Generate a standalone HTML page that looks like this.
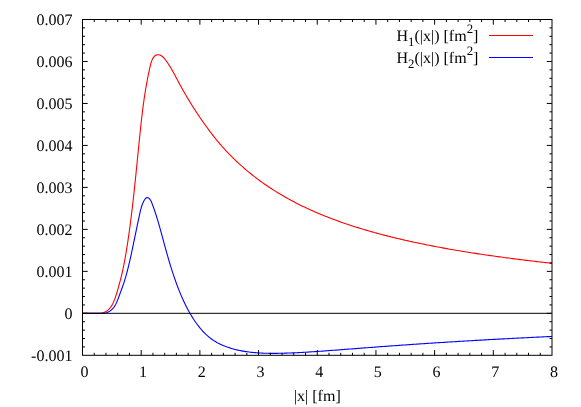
<!DOCTYPE html>
<html><head><meta charset="utf-8"><title>H1 H2</title>
<style>
html,body{margin:0;padding:0;background:#fff;}
body{width:581px;height:407px;overflow:hidden;}
svg{display:block;}
text{font-family:"Liberation Serif",serif;font-size:16px;fill:#000;text-rendering:geometricPrecision;}
#tx{filter:grayscale(1);}
</style></head><body>
<svg width="581" height="407" viewBox="0 0 581 407">
<rect width="581" height="407" fill="#fff"/>
<path d="M82.50,313.32 L90.00,313.35 L91.08,313.31 L92.15,313.29 L93.23,313.30 L94.31,313.32 L95.39,313.34 L96.47,313.35 L97.55,313.34 L98.63,313.31 L99.71,313.23 L100.79,313.11 L101.87,312.93 L102.92,312.69 L103.95,312.39 L104.94,312.02 L105.90,311.56 L106.81,311.03 L107.66,310.41 L108.46,309.71 L109.22,308.95 L109.93,308.13 L110.59,307.26 L111.22,306.34 L111.80,305.39 L112.35,304.41 L112.86,303.42 L113.34,302.41 L113.79,301.40 L114.22,300.39 L114.62,299.39 L114.99,298.39 L115.35,297.40 L115.69,296.40 L116.02,295.41 L116.33,294.41 L116.64,293.41 L116.94,292.40 L117.24,291.40 L117.53,290.38 L117.83,289.37 L118.12,288.34 L118.42,287.32 L118.71,286.29 L118.99,285.25 L119.28,284.22 L119.56,283.18 L119.84,282.13 L120.12,281.09 L120.39,280.04 L120.66,278.99 L120.93,277.93 L121.19,276.88 L121.45,275.83 L121.71,274.77 L121.96,273.71 L122.20,272.66 L122.44,271.60 L122.68,270.54 L122.91,269.48 L123.13,268.43 L123.36,267.37 L123.58,266.31 L123.79,265.25 L124.00,264.19 L124.21,263.13 L124.41,262.07 L124.61,261.01 L124.81,259.95 L125.00,258.89 L125.19,257.83 L125.38,256.77 L125.57,255.71 L125.75,254.64 L125.93,253.58 L126.11,252.52 L126.28,251.46 L126.45,250.39 L126.63,249.33 L126.79,248.27 L126.96,247.20 L127.13,246.14 L127.29,245.07 L127.46,244.01 L127.62,242.95 L127.78,241.88 L127.94,240.82 L128.09,239.75 L128.25,238.69 L128.40,237.62 L128.56,236.55 L128.71,235.49 L128.86,234.42 L129.01,233.35 L129.16,232.29 L129.31,231.22 L129.46,230.15 L129.60,229.09 L129.75,228.02 L129.89,226.95 L130.03,225.88 L130.17,224.81 L130.31,223.75 L130.45,222.68 L130.59,221.61 L130.73,220.54 L130.86,219.47 L131.00,218.40 L131.13,217.33 L131.27,216.26 L131.40,215.19 L131.53,214.12 L131.66,213.05 L131.79,211.98 L131.92,210.91 L132.05,209.84 L132.17,208.77 L132.30,207.70 L132.43,206.63 L132.55,205.56 L132.67,204.49 L132.80,203.42 L132.92,202.35 L133.04,201.28 L133.16,200.20 L133.28,199.13 L133.40,198.06 L133.52,196.99 L133.64,195.92 L133.76,194.84 L133.87,193.77 L133.99,192.70 L134.11,191.63 L134.22,190.56 L134.34,189.48 L134.45,188.41 L134.57,187.34 L134.68,186.27 L134.79,185.19 L134.91,184.12 L135.02,183.05 L135.13,181.97 L135.24,180.90 L135.35,179.83 L135.46,178.75 L135.57,177.68 L135.68,176.61 L135.79,175.53 L135.90,174.46 L136.01,173.39 L136.12,172.31 L136.23,171.24 L136.33,170.17 L136.44,169.09 L136.55,168.02 L136.66,166.95 L136.77,165.87 L136.87,164.80 L136.98,163.73 L137.09,162.65 L137.19,161.58 L137.30,160.51 L137.41,159.43 L137.51,158.36 L137.62,157.29 L137.73,156.21 L137.83,155.14 L137.94,154.06 L138.05,152.99 L138.15,151.92 L138.26,150.84 L138.37,149.77 L138.47,148.70 L138.58,147.62 L138.69,146.55 L138.79,145.48 L138.90,144.40 L139.01,143.33 L139.12,142.26 L139.22,141.18 L139.33,140.11 L139.44,139.04 L139.55,137.97 L139.66,136.89 L139.77,135.82 L139.88,134.75 L139.99,133.67 L140.10,132.60 L140.21,131.53 L140.32,130.46 L140.43,129.39 L140.54,128.31 L140.66,127.24 L140.77,126.17 L140.89,125.10 L141.00,124.03 L141.12,122.95 L141.24,121.88 L141.36,120.81 L141.48,119.74 L141.60,118.67 L141.72,117.60 L141.85,116.53 L141.98,115.46 L142.10,114.39 L142.23,113.32 L142.36,112.25 L142.49,111.18 L142.63,110.11 L142.76,109.04 L142.90,107.97 L143.04,106.90 L143.18,105.83 L143.32,104.77 L143.47,103.70 L143.61,102.63 L143.76,101.56 L143.91,100.49 L144.07,99.43 L144.22,98.36 L144.38,97.29 L144.54,96.23 L144.70,95.16 L144.87,94.10 L145.03,93.03 L145.20,91.97 L145.38,90.90 L145.55,89.84 L145.73,88.77 L145.91,87.71 L146.10,86.64 L146.28,85.58 L146.47,84.52 L146.66,83.46 L146.86,82.39 L147.06,81.33 L147.26,80.27 L147.46,79.21 L147.66,78.15 L147.87,77.10 L148.08,76.04 L148.30,74.98 L148.51,73.93 L148.73,72.87 L148.95,71.82 L149.18,70.76 L149.40,69.71 L149.63,68.66 L149.86,67.61 L150.10,66.56 L150.34,65.51 L150.60,64.47 L150.88,63.43 L151.18,62.40 L151.53,61.37 L151.93,60.36 L152.37,59.35 L152.88,58.36 L153.46,57.41 L154.13,56.55 L154.88,55.82 L155.74,55.25 L156.70,54.88 L157.73,54.73 L158.78,54.79 L159.82,55.05 L160.83,55.48 L161.79,56.05 L162.68,56.72 L163.50,57.47 L164.25,58.28 L164.94,59.12 L165.60,59.99 L166.24,60.86 L166.87,61.75 L167.48,62.63 L168.08,63.53 L168.67,64.43 L169.25,65.33 L169.82,66.24 L170.38,67.16 L170.93,68.08 L171.47,69.00 L172.00,69.93 L172.53,70.86 L173.05,71.79 L173.57,72.73 L174.08,73.67 L174.59,74.61 L175.10,75.55 L175.60,76.49 L176.10,77.44 L176.60,78.39 L177.10,79.33 L177.60,80.28 L178.10,81.23 L178.60,82.17 L179.11,83.12 L179.62,84.07 L180.13,85.01 L180.65,85.95 L181.16,86.89 L181.68,87.84 L182.21,88.78 L182.73,89.72 L183.26,90.65 L183.79,91.59 L184.33,92.53 L184.86,93.46 L185.40,94.40 L185.95,95.33 L186.49,96.26 L187.04,97.19 L187.59,98.12 L188.15,99.05 L188.70,99.97 L189.26,100.90 L189.83,101.82 L190.39,102.74 L190.96,103.66 L191.53,104.58 L192.11,105.50 L192.68,106.42 L193.26,107.33 L193.85,108.24 L194.43,109.16 L195.02,110.06 L195.61,110.97 L196.21,111.88 L196.81,112.78 L197.41,113.69 L198.01,114.59 L198.62,115.50 L199.23,116.40 L199.84,117.30 L200.45,118.20 L201.07,119.10 L201.69,120.00 L202.32,120.90 L202.94,121.80 L203.57,122.70 L204.20,123.59 L204.84,124.49 L205.48,125.38 L206.12,126.27 L206.76,127.16 L207.41,128.05 L208.06,128.94 L208.72,129.82 L209.37,130.70 L210.03,131.58 L210.69,132.46 L211.36,133.34 L212.03,134.21 L212.70,135.07 L213.37,135.94 L214.05,136.80 L214.73,137.66 L215.41,138.51 L216.10,139.36 L216.79,140.21 L217.48,141.05 L218.18,141.88 L218.87,142.71 L219.58,143.54 L220.28,144.36 L220.99,145.18 L221.70,145.99 L222.41,146.80 L223.13,147.60 L223.85,148.39 L224.57,149.18 L225.00,149.65 L226.50,151.26 L228.00,152.84 L229.50,154.39 L231.00,155.92 L232.50,157.42 L234.00,158.89 L235.50,160.33 L237.00,161.76 L238.50,163.15 L240.00,164.53 L241.50,165.88 L243.00,167.21 L244.50,168.51 L246.00,169.80 L247.50,171.06 L249.00,172.30 L250.50,173.52 L252.00,174.73 L253.50,175.91 L255.00,177.07 L256.50,178.22 L258.00,179.35 L259.50,180.46 L261.00,181.55 L262.50,182.62 L264.00,183.68 L265.50,184.73 L267.00,185.75 L268.50,186.76 L270.00,187.76 L271.50,188.74 L273.00,189.71 L274.50,190.66 L276.00,191.60 L277.50,192.52 L279.00,193.44 L280.50,194.33 L282.00,195.22 L283.50,196.09 L285.00,196.95 L286.50,197.80 L288.00,198.63 L289.50,199.46 L291.00,200.27 L292.50,201.07 L294.00,201.86 L295.50,202.64 L297.00,203.41 L298.50,204.17 L300.00,204.92 L301.50,205.66 L303.00,206.39 L304.50,207.11 L306.00,207.82 L307.50,208.52 L309.00,209.21 L310.50,209.89 L312.00,210.56 L313.50,211.23 L315.00,211.89 L316.50,212.54 L318.00,213.18 L319.50,213.81 L321.00,214.43 L322.50,215.05 L324.00,215.66 L325.50,216.26 L327.00,216.86 L328.50,217.44 L330.00,218.02 L331.50,218.60 L333.00,219.16 L334.50,219.72 L336.00,220.28 L337.50,220.82 L339.00,221.36 L340.50,221.90 L342.00,222.43 L343.50,222.95 L345.00,223.47 L346.50,223.98 L348.00,224.48 L349.50,224.98 L351.00,225.47 L352.50,225.96 L354.00,226.44 L355.50,226.92 L357.00,227.39 L358.50,227.86 L360.00,228.32 L361.50,228.78 L363.00,229.23 L364.50,229.68 L366.00,230.12 L367.50,230.56 L369.00,231.00 L370.50,231.43 L372.00,231.85 L373.50,232.27 L375.00,232.69 L376.50,233.10 L378.00,233.51 L379.50,233.91 L381.00,234.31 L382.50,234.71 L384.00,235.10 L385.50,235.48 L387.00,235.87 L388.50,236.25 L390.00,236.63 L391.50,237.00 L393.00,237.37 L394.50,237.73 L396.00,238.10 L397.50,238.46 L399.00,238.81 L400.50,239.16 L402.00,239.51 L403.50,239.86 L405.00,240.20 L406.50,240.54 L408.00,240.88 L409.50,241.21 L411.00,241.54 L412.50,241.87 L414.00,242.19 L415.50,242.51 L417.00,242.83 L418.50,243.15 L420.00,243.46 L421.50,243.77 L423.00,244.08 L424.50,244.38 L426.00,244.69 L427.50,244.99 L429.00,245.28 L430.50,245.58 L432.00,245.87 L433.50,246.16 L435.00,246.45 L436.50,246.73 L438.00,247.01 L439.50,247.29 L441.00,247.57 L442.50,247.85 L444.00,248.12 L445.50,248.39 L447.00,248.66 L448.50,248.93 L450.00,249.19 L451.50,249.45 L453.00,249.71 L454.50,249.97 L456.00,250.23 L457.50,250.48 L459.00,250.73 L460.50,250.98 L462.00,251.23 L463.50,251.48 L465.00,251.72 L466.50,251.96 L468.00,252.20 L469.50,252.44 L471.00,252.68 L472.50,252.92 L474.00,253.15 L475.50,253.38 L477.00,253.61 L478.50,253.84 L480.00,254.07 L481.50,254.29 L483.00,254.51 L484.50,254.74 L486.00,254.96 L487.50,255.17 L489.00,255.39 L490.50,255.61 L492.00,255.82 L493.50,256.03 L495.00,256.24 L496.50,256.45 L498.00,256.66 L499.50,256.87 L501.00,257.07 L502.50,257.27 L504.00,257.48 L505.50,257.68 L507.00,257.87 L508.50,258.07 L510.00,258.27 L511.50,258.46 L513.00,258.66 L514.50,258.85 L516.00,259.04 L517.50,259.23 L519.00,259.42 L520.50,259.61 L522.00,259.79 L523.50,259.98 L525.00,260.16 L526.50,260.34 L528.00,260.52 L529.50,260.70 L531.00,260.88 L532.50,261.06 L534.00,261.24 L535.50,261.41 L537.00,261.59 L538.50,261.76 L540.00,261.93 L541.50,262.10 L543.00,262.27 L544.50,262.44 L546.00,262.61 L547.50,262.78 L549.00,262.94 L550.50,263.11 L552.00,263.27" stroke="#ff0000" stroke-width="1.1" fill="none" stroke-linejoin="round"/>
<path d="M82.50,313.32 L89.99,313.31 L90.93,313.34 L91.85,313.35 L92.77,313.35 L93.69,313.34 L94.61,313.33 L95.52,313.31 L96.44,313.30 L97.35,313.29 L98.28,313.29 L99.20,313.30 L100.13,313.32 L101.07,313.34 L102.00,313.35 L102.93,313.33 L103.86,313.26 L104.77,313.15 L105.67,312.96 L106.55,312.71 L107.40,312.40 L108.24,312.02 L109.05,311.59 L109.83,311.10 L110.58,310.57 L111.29,310.00 L111.97,309.38 L112.61,308.74 L113.21,308.06 L113.77,307.35 L114.30,306.61 L114.80,305.85 L115.27,305.06 L115.72,304.25 L116.14,303.43 L116.54,302.59 L116.92,301.74 L117.29,300.87 L117.65,300.00 L117.99,299.12 L118.32,298.24 L118.65,297.36 L118.97,296.47 L119.29,295.59 L119.61,294.72 L119.93,293.85 L120.25,292.98 L120.57,292.12 L120.89,291.26 L121.21,290.40 L121.52,289.54 L121.83,288.69 L122.14,287.83 L122.45,286.98 L122.75,286.12 L123.05,285.26 L123.35,284.40 L123.64,283.54 L123.92,282.68 L124.20,281.81 L124.48,280.94 L124.75,280.07 L125.02,279.20 L125.28,278.32 L125.54,277.44 L125.80,276.56 L126.05,275.68 L126.30,274.80 L126.54,273.91 L126.78,273.03 L127.02,272.14 L127.25,271.25 L127.49,270.36 L127.71,269.47 L127.94,268.57 L128.16,267.68 L128.38,266.78 L128.60,265.89 L128.82,264.99 L129.03,264.09 L129.24,263.19 L129.45,262.29 L129.66,261.39 L129.86,260.49 L130.07,259.59 L130.27,258.69 L130.47,257.79 L130.67,256.89 L130.87,255.99 L131.06,255.09 L131.26,254.18 L131.45,253.28 L131.65,252.38 L131.84,251.48 L132.03,250.58 L132.22,249.68 L132.41,248.78 L132.60,247.88 L132.79,246.98 L132.98,246.08 L133.17,245.18 L133.36,244.28 L133.55,243.38 L133.73,242.48 L133.92,241.58 L134.11,240.68 L134.29,239.78 L134.48,238.88 L134.66,237.98 L134.85,237.08 L135.04,236.18 L135.22,235.28 L135.41,234.38 L135.59,233.48 L135.78,232.58 L135.96,231.68 L136.15,230.78 L136.34,229.88 L136.52,228.98 L136.71,228.08 L136.90,227.18 L137.08,226.28 L137.27,225.38 L137.46,224.48 L137.65,223.58 L137.84,222.68 L138.03,221.78 L138.22,220.88 L138.41,219.98 L138.61,219.08 L138.80,218.18 L139.00,217.27 L139.19,216.37 L139.39,215.47 L139.58,214.57 L139.78,213.67 L139.98,212.76 L140.18,211.86 L140.39,210.96 L140.60,210.06 L140.83,209.16 L141.06,208.27 L141.31,207.38 L141.58,206.50 L141.87,205.62 L142.18,204.74 L142.51,203.88 L142.87,203.02 L143.26,202.18 L143.69,201.34 L144.15,200.51 L144.64,199.70 L145.18,198.92 L145.78,198.24 L146.43,197.75 L147.16,197.54 L147.96,197.68 L148.77,198.12 L149.51,198.78 L150.14,199.57 L150.67,200.39 L151.10,201.23 L151.47,202.07 L151.81,202.92 L152.14,203.77 L152.47,204.62 L152.79,205.48 L153.11,206.34 L153.42,207.20 L153.73,208.06 L154.04,208.93 L154.34,209.80 L154.64,210.67 L154.93,211.54 L155.22,212.41 L155.51,213.29 L155.79,214.16 L156.07,215.04 L156.35,215.92 L156.63,216.79 L156.90,217.67 L157.17,218.56 L157.44,219.44 L157.70,220.32 L157.97,221.20 L158.23,222.08 L158.49,222.97 L158.75,223.85 L159.00,224.74 L159.25,225.63 L159.51,226.51 L159.76,227.40 L160.01,228.29 L160.25,229.17 L160.50,230.06 L160.75,230.95 L160.99,231.84 L161.23,232.73 L161.48,233.62 L161.72,234.51 L161.96,235.40 L162.20,236.29 L162.44,237.18 L162.68,238.07 L162.92,238.96 L163.16,239.85 L163.40,240.74 L163.64,241.63 L163.88,242.52 L164.13,243.41 L164.37,244.30 L164.61,245.18 L164.85,246.07 L165.10,246.96 L165.34,247.85 L165.58,248.74 L165.83,249.63 L166.08,250.51 L166.32,251.40 L166.57,252.29 L166.82,253.17 L167.07,254.06 L167.33,254.95 L167.58,255.83 L167.83,256.72 L168.09,257.60 L168.34,258.48 L168.60,259.37 L168.86,260.25 L169.12,261.13 L169.39,262.01 L169.65,262.90 L169.91,263.78 L170.18,264.66 L170.45,265.54 L170.72,266.42 L170.99,267.30 L171.27,268.17 L171.55,269.05 L171.82,269.93 L172.10,270.80 L172.39,271.68 L172.67,272.55 L172.96,273.43 L173.25,274.30 L173.54,275.18 L173.83,276.05 L174.13,276.92 L174.42,277.79 L174.73,278.66 L175.03,279.53 L175.33,280.40 L175.64,281.26 L175.95,282.13 L176.27,282.99 L176.58,283.86 L176.90,284.72 L177.22,285.59 L177.55,286.45 L177.88,287.31 L178.21,288.17 L178.54,289.03 L178.88,289.89 L179.22,290.74 L179.56,291.60 L179.91,292.46 L180.26,293.31 L180.61,294.16 L180.97,295.01 L181.33,295.86 L181.70,296.71 L182.07,297.56 L182.44,298.40 L182.81,299.24 L183.19,300.09 L183.58,300.92 L183.97,301.76 L184.36,302.60 L184.76,303.43 L185.16,304.26 L185.57,305.08 L185.98,305.91 L186.39,306.73 L186.81,307.55 L187.24,308.37 L187.67,309.18 L188.11,309.99 L188.55,310.80 L188.99,311.61 L189.44,312.41 L189.90,313.21 L190.36,314.00 L190.83,314.79 L191.30,315.58 L191.78,316.36 L192.27,317.14 L192.76,317.92 L193.25,318.69 L193.76,319.46 L194.26,320.22 L194.78,320.98 L195.30,321.74 L195.83,322.49 L196.36,323.24 L196.90,323.98 L197.45,324.72 L198.00,325.45 L198.56,326.18 L199.13,326.90 L199.71,327.61 L200.29,328.32 L200.88,329.02 L201.48,329.71 L202.09,330.40 L202.70,331.08 L203.33,331.75 L203.96,332.41 L204.60,333.06 L205.24,333.70 L205.90,334.34 L206.57,334.96 L207.24,335.57 L207.93,336.18 L208.62,336.77 L209.33,337.35 L210.04,337.92 L210.76,338.48 L211.50,339.03 L212.24,339.56 L212.99,340.08 L213.76,340.59 L214.53,341.08 L215.32,341.56 L216.11,342.02 L216.91,342.48 L217.72,342.92 L218.54,343.34 L219.37,343.76 L220.20,344.16 L221.04,344.55 L221.89,344.93 L222.74,345.30 L223.60,345.66 L224.46,346.01 L225.33,346.35 L226.21,346.67 L227.09,346.99 L227.97,347.30 L228.86,347.60 L229.75,347.89 L230.64,348.17 L231.53,348.44 L232.43,348.71 L233.33,348.96 L234.23,349.20 L235.13,349.44 L236.03,349.67 L236.93,349.88 L237.84,350.09 L238.74,350.29 L239.64,350.49 L240.00,350.56 L241.50,350.86 L243.00,351.13 L244.50,351.39 L246.00,351.62 L247.50,351.83 L249.00,352.03 L250.50,352.21 L252.00,352.37 L253.50,352.52 L255.00,352.66 L256.50,352.78 L258.00,352.88 L259.50,352.98 L261.00,353.06 L262.50,353.13 L264.00,353.19 L265.50,353.24 L267.00,353.28 L268.50,353.31 L270.00,353.34 L271.50,353.35 L273.00,353.36 L274.50,353.35 L276.00,353.35 L277.50,353.33 L279.00,353.31 L280.50,353.29 L282.00,353.25 L283.50,353.21 L285.00,353.17 L286.50,353.12 L288.00,353.07 L289.50,353.02 L291.00,352.96 L292.50,352.89 L294.00,352.82 L295.50,352.75 L297.00,352.68 L298.50,352.60 L300.00,352.52 L301.50,352.44 L303.00,352.35 L304.50,352.27 L306.00,352.18 L307.50,352.08 L309.00,351.99 L310.50,351.89 L312.00,351.80 L313.50,351.70 L315.00,351.60 L316.50,351.50 L318.00,351.39 L319.50,351.29 L321.00,351.18 L322.50,351.08 L324.00,350.97 L325.50,350.86 L327.00,350.75 L328.50,350.64 L330.00,350.53 L331.50,350.42 L333.00,350.31 L334.50,350.20 L336.00,350.08 L337.50,349.97 L339.00,349.86 L340.50,349.74 L342.00,349.63 L343.50,349.52 L345.00,349.40 L346.50,349.29 L348.00,349.17 L349.50,349.06 L351.00,348.94 L352.50,348.83 L354.00,348.71 L355.50,348.60 L357.00,348.49 L358.50,348.37 L360.00,348.26 L361.50,348.14 L363.00,348.03 L364.50,347.91 L366.00,347.80 L367.50,347.69 L369.00,347.57 L370.50,347.46 L372.00,347.35 L373.50,347.23 L375.00,347.12 L376.50,347.01 L378.00,346.90 L379.50,346.78 L381.00,346.67 L382.50,346.56 L384.00,346.45 L385.50,346.34 L387.00,346.23 L388.50,346.12 L390.00,346.01 L391.50,345.90 L393.00,345.79 L394.50,345.69 L396.00,345.58 L397.50,345.47 L399.00,345.36 L400.50,345.26 L402.00,345.15 L403.50,345.04 L405.00,344.94 L406.50,344.83 L408.00,344.73 L409.50,344.62 L411.00,344.52 L412.50,344.41 L414.00,344.31 L415.50,344.21 L417.00,344.11 L418.50,344.00 L420.00,343.90 L421.50,343.80 L423.00,343.70 L424.50,343.60 L426.00,343.50 L427.50,343.40 L429.00,343.30 L430.50,343.20 L432.00,343.10 L433.50,343.01 L435.00,342.91 L436.50,342.81 L438.00,342.71 L439.50,342.62 L441.00,342.52 L442.50,342.43 L444.00,342.33 L445.50,342.24 L447.00,342.14 L448.50,342.05 L450.00,341.95 L451.50,341.86 L453.00,341.77 L454.50,341.68 L456.00,341.58 L457.50,341.49 L459.00,341.40 L460.50,341.31 L462.00,341.22 L463.50,341.13 L465.00,341.04 L466.50,340.95 L468.00,340.86 L469.50,340.77 L471.00,340.69 L472.50,340.60 L474.00,340.51 L475.50,340.42 L477.00,340.34 L478.50,340.25 L480.00,340.17 L481.50,340.08 L483.00,339.99 L484.50,339.91 L486.00,339.83 L487.50,339.74 L489.00,339.66 L490.50,339.57 L492.00,339.49 L493.50,339.41 L495.00,339.33 L496.50,339.24 L498.00,339.16 L499.50,339.08 L501.00,339.00 L502.50,338.92 L504.00,338.84 L505.50,338.76 L507.00,338.68 L508.50,338.60 L510.00,338.52 L511.50,338.45 L513.00,338.37 L514.50,338.29 L516.00,338.21 L517.50,338.13 L519.00,338.06 L520.50,337.98 L522.00,337.91 L523.50,337.83 L525.00,337.75 L526.50,337.68 L528.00,337.60 L529.50,337.53 L531.00,337.45 L532.50,337.38 L534.00,337.31 L535.50,337.23 L537.00,337.16 L538.50,337.09 L540.00,337.02 L541.50,336.94 L543.00,336.87 L544.50,336.80 L546.00,336.73 L547.50,336.66 L549.00,336.59 L550.50,336.52 L552.00,336.45" stroke="#0000ff" stroke-width="1.1" fill="none" stroke-linejoin="round"/>
<path d="M94.24,355.30V352.80M94.24,19.50V22.00M105.97,355.30V352.80M105.97,19.50V22.00M117.71,355.30V352.80M117.71,19.50V22.00M129.45,355.30V352.80M129.45,19.50V22.00M141.19,355.30V350.10M141.19,19.50V24.70M152.93,355.30V352.80M152.93,19.50V22.00M164.66,355.30V352.80M164.66,19.50V22.00M176.40,355.30V352.80M176.40,19.50V22.00M188.14,355.30V352.80M188.14,19.50V22.00M199.88,355.30V350.10M199.88,19.50V24.70M211.61,355.30V352.80M211.61,19.50V22.00M223.35,355.30V352.80M223.35,19.50V22.00M235.09,355.30V352.80M235.09,19.50V22.00M246.82,355.30V352.80M246.82,19.50V22.00M258.56,355.30V350.10M258.56,19.50V24.70M270.30,355.30V352.80M270.30,19.50V22.00M282.04,355.30V352.80M282.04,19.50V22.00M293.77,355.30V352.80M293.77,19.50V22.00M305.51,355.30V352.80M305.51,19.50V22.00M317.25,355.30V350.10M317.25,19.50V24.70M328.99,355.30V352.80M328.99,19.50V22.00M340.73,355.30V352.80M340.73,19.50V22.00M352.46,355.30V352.80M352.46,19.50V22.00M364.20,355.30V352.80M364.20,19.50V22.00M375.94,355.30V350.10M375.94,19.50V24.70M387.68,355.30V352.80M387.68,19.50V22.00M399.41,355.30V352.80M399.41,19.50V22.00M411.15,355.30V352.80M411.15,19.50V22.00M422.89,355.30V352.80M422.89,19.50V22.00M434.62,355.30V350.10M434.62,19.50V24.70M446.36,355.30V352.80M446.36,19.50V22.00M458.10,355.30V352.80M458.10,19.50V22.00M469.84,355.30V352.80M469.84,19.50V22.00M481.57,355.30V352.80M481.57,19.50V22.00M493.31,355.30V350.10M493.31,19.50V24.70M505.05,355.30V352.80M505.05,19.50V22.00M516.79,355.30V352.80M516.79,19.50V22.00M528.52,355.30V352.80M528.52,19.50V22.00M540.26,355.30V352.80M540.26,19.50V22.00M82.50,346.91H85.00M552.00,346.91H549.50M82.50,338.51H85.00M552.00,338.51H549.50M82.50,330.12H85.00M552.00,330.12H549.50M82.50,321.72H85.00M552.00,321.72H549.50M82.50,313.32H87.70M552.00,313.32H546.80M82.50,304.93H85.00M552.00,304.93H549.50M82.50,296.54H85.00M552.00,296.54H549.50M82.50,288.14H85.00M552.00,288.14H549.50M82.50,279.75H85.00M552.00,279.75H549.50M82.50,271.35H87.70M552.00,271.35H546.80M82.50,262.96H85.00M552.00,262.96H549.50M82.50,254.56H85.00M552.00,254.56H549.50M82.50,246.16H85.00M552.00,246.16H549.50M82.50,237.77H85.00M552.00,237.77H549.50M82.50,229.38H87.70M552.00,229.38H546.80M82.50,220.98H85.00M552.00,220.98H549.50M82.50,212.59H85.00M552.00,212.59H549.50M82.50,204.19H85.00M552.00,204.19H549.50M82.50,195.80H85.00M552.00,195.80H549.50M82.50,187.40H87.70M552.00,187.40H546.80M82.50,179.00H85.00M552.00,179.00H549.50M82.50,170.61H85.00M552.00,170.61H549.50M82.50,162.22H85.00M552.00,162.22H549.50M82.50,153.82H85.00M552.00,153.82H549.50M82.50,145.43H87.70M552.00,145.43H546.80M82.50,137.03H85.00M552.00,137.03H549.50M82.50,128.63H85.00M552.00,128.63H549.50M82.50,120.24H85.00M552.00,120.24H549.50M82.50,111.84H85.00M552.00,111.84H549.50M82.50,103.45H87.70M552.00,103.45H546.80M82.50,95.06H85.00M552.00,95.06H549.50M82.50,86.66H85.00M552.00,86.66H549.50M82.50,78.27H85.00M552.00,78.27H549.50M82.50,69.87H85.00M552.00,69.87H549.50M82.50,61.48H87.70M552.00,61.48H546.80M82.50,53.08H85.00M552.00,53.08H549.50M82.50,44.69H85.00M552.00,44.69H549.50M82.50,36.29H85.00M552.00,36.29H549.50M82.50,27.89H85.00M552.00,27.89H549.50" stroke="#000" stroke-width="1" fill="none"/>
<rect x="82.50" y="19.50" width="469.50" height="335.80" fill="none" stroke="#000" stroke-width="1"/>
<path d="M82.50,313.32H552.00" stroke="#000" stroke-width="1" fill="none"/>
<g id="tx">
<text x="72.4" y="360.70" text-anchor="end">-0.001</text>
<text x="72.4" y="318.72" text-anchor="end">0</text>
<text x="72.4" y="276.75" text-anchor="end">0.001</text>
<text x="72.4" y="234.78" text-anchor="end">0.002</text>
<text x="72.4" y="192.80" text-anchor="end">0.003</text>
<text x="72.4" y="150.83" text-anchor="end">0.004</text>
<text x="72.4" y="108.85" text-anchor="end">0.005</text>
<text x="72.4" y="66.88" text-anchor="end">0.006</text>
<text x="72.4" y="24.90" text-anchor="end">0.007</text>
<text x="84.40" y="376.9" text-anchor="middle">0</text>
<text x="143.09" y="376.9" text-anchor="middle">1</text>
<text x="201.78" y="376.9" text-anchor="middle">2</text>
<text x="260.46" y="376.9" text-anchor="middle">3</text>
<text x="319.15" y="376.9" text-anchor="middle">4</text>
<text x="377.84" y="376.9" text-anchor="middle">5</text>
<text x="436.52" y="376.9" text-anchor="middle">6</text>
<text x="495.21" y="376.9" text-anchor="middle">7</text>
<text x="553.90" y="376.9" text-anchor="middle">8</text>
<text x="317.3" y="400.7" text-anchor="middle">|x| [fm]</text>
<text x="396.5" y="40.60">H<tspan font-size="12.8px" dy="5">1</tspan><tspan dy="-5">(|x|) [fm</tspan><tspan font-size="12.8px" dy="-8">2</tspan><tspan dy="8">]</tspan></text>
<text x="396.5" y="63.00">H<tspan font-size="12.8px" dy="5">2</tspan><tspan dy="-5">(|x|) [fm</tspan><tspan font-size="12.8px" dy="-8">2</tspan><tspan dy="8">]</tspan></text>
</g>
<path d="M489,35.50H533" stroke="#ff0000" stroke-width="1" fill="none"/>
<path d="M489,57.50H533" stroke="#0000ff" stroke-width="1" fill="none"/>
</svg>
</body></html>
